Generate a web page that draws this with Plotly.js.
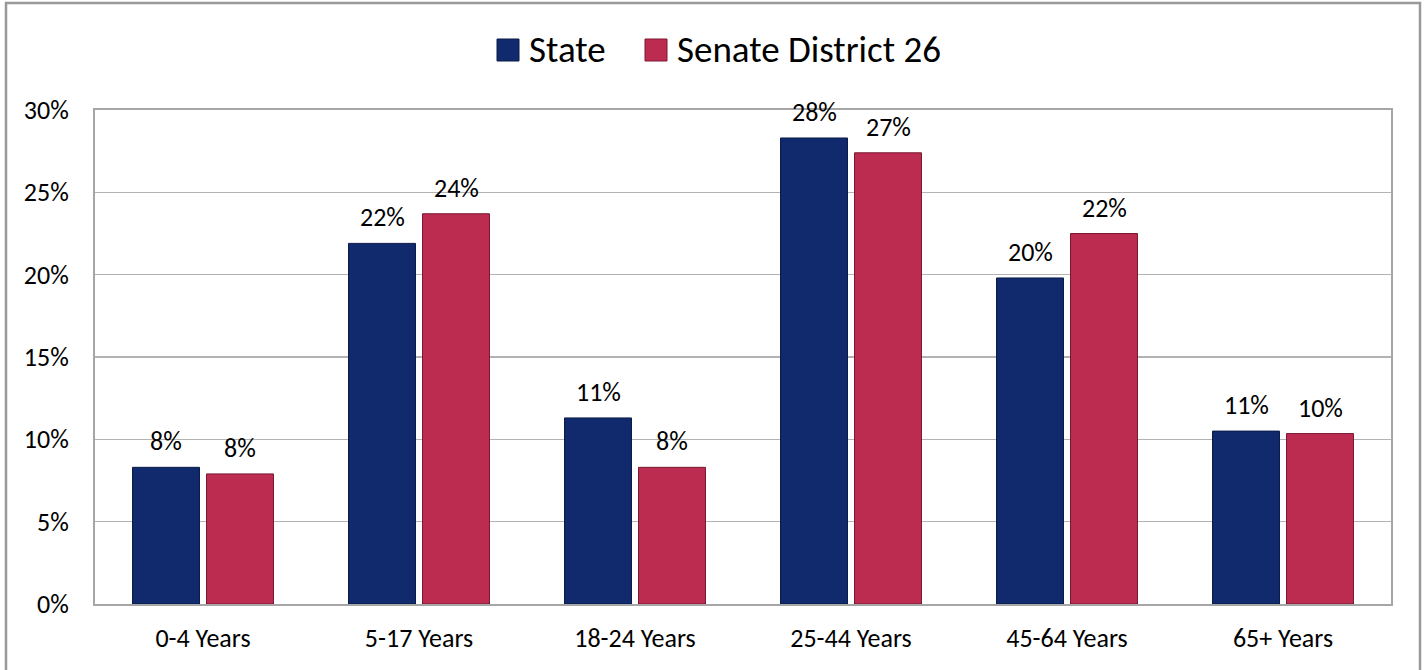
<!DOCTYPE html>
<html>
<head>
<meta charset="utf-8">
<script src="https://cdn.plot.ly/plotly-3.0.1.min.js"></script>
<style>html,body{margin:0;padding:0;background:#fff;}#chart{width:1426px;height:670px;}</style>
</head>
<body>
<div id="chart"></div>
<script>
const categories = ["0-4 Years", "5-17 Years", "18-24 Years", "25-44 Years", "45-64 Years", "65+ Years"];
const stateValues = [8.3, 21.9, 11.3, 28.3, 19.8, 10.5];
const districtValues = [7.9, 23.7, 8.3, 27.4, 22.5, 10.35];
const stateLabels = ["8%", "22%", "11%", "28%", "20%", "11%"];
const districtLabels = ["8%", "24%", "8%", "27%", "22%", "10%"];
const seriesNames = ["State", "Senate District 26"];
const tickValues = [0, 5, 10, 15, 20, 25, 30];
const tickLabels = ["0%", "5%", "10%", "15%", "20%", "25%", "30%"];

const FONT = "Carlito, Lato, 'Open Sans', sans-serif";
const navy = "#112a6e";
const crimson = "#bc2c51";
const TS = 26;

const traces = [
  {type: "bar", name: seriesNames[0], x: categories, y: stateValues,
   marker: {color: navy, line: {color: "#0a1a45", width: 1}}, hoverinfo: "x+y"},
  {type: "bar", name: seriesNames[1], x: categories, y: districtValues,
   marker: {color: crimson, line: {color: "#7a1830", width: 1}}, hoverinfo: "x+y"}
];

const annotations = [];
categories.forEach((c, i) => {
  annotations.push({x: c, y: stateValues[i], xref: "x", yref: "y", text: stateLabels[i],
    showarrow: false, xshift: -37, yshift: 26, yanchor: "middle",
    font: {family: FONT, size: TS, color: "#000"}});
  annotations.push({x: c, y: districtValues[i], xref: "x", yref: "y", text: districtLabels[i],
    showarrow: false, xshift: 37, yshift: 26, yanchor: "middle",
    font: {family: FONT, size: TS, color: "#000"}});
});

// Manual legend (paper coords relative to plot area: x 95..1391, y 110..604)
const W = 1296, H = 494, L = 95, T = 110;
const px = v => (v - L) / W;
const py = v => 1 - (v - T) / H;
const legendColors = [navy, crimson];
const legendSw = [[497, 519], [645, 667]];
const legendTextX = [527, 675];
const shapes = [
  {type: "rect", xref: "paper", yref: "paper", x0: px(6), x1: px(1420), y0: py(675), y1: py(3),
   line: {color: "#999999", width: 2.5}, fillcolor: "rgba(0,0,0,0)", layer: "below"}
];
seriesNames.forEach((n, i) => {
  shapes.push({type: "rect", xref: "paper", yref: "paper", x0: px(legendSw[i][0]), x1: px(legendSw[i][1]),
    y0: py(61), y1: py(39), fillcolor: legendColors[i], line: {color: i ? "#7a1830" : "#0a1a45", width: 1}});
  annotations.push({xref: "paper", yref: "paper", x: px(legendTextX[i]), y: py(49), xanchor: "left", yanchor: "middle",
    text: n, showarrow: false, font: {family: FONT, size: 37, color: "#000"}});
});

const layout = {
  width: 1426, height: 670,
  margin: {l: 95, r: 35, t: 110, b: 66, pad: 0},
  paper_bgcolor: "#fff", plot_bgcolor: "#fff",
  showlegend: false,
  barmode: "group", bargap: 0.315, bargroupgap: 0.095,
  font: {family: FONT, size: TS, color: "#000"},
  xaxis: {type: "category", showline: true, linecolor: "#a6a6a6", linewidth: 2, mirror: true,
    showgrid: false, ticks: "", ticklabelstandoff: 10, tickfont: {family: FONT, size: TS, color: "#000"}},
  yaxis: {range: [0, 30], tickvals: tickValues, ticktext: tickLabels, showline: true, linecolor: "#a6a6a6",
    linewidth: 2, mirror: true, showgrid: true, gridcolor: "#b3b3b3", gridwidth: 1.5, zeroline: false,
    ticks: "", ticklabelstandoff: 19, tickfont: {family: FONT, size: TS, color: "#000"}},
  annotations: annotations,
  shapes: shapes
};

Plotly.newPlot("chart", traces, layout, {displayModeBar: false, staticPlot: true});
</script>
</body>
</html>
